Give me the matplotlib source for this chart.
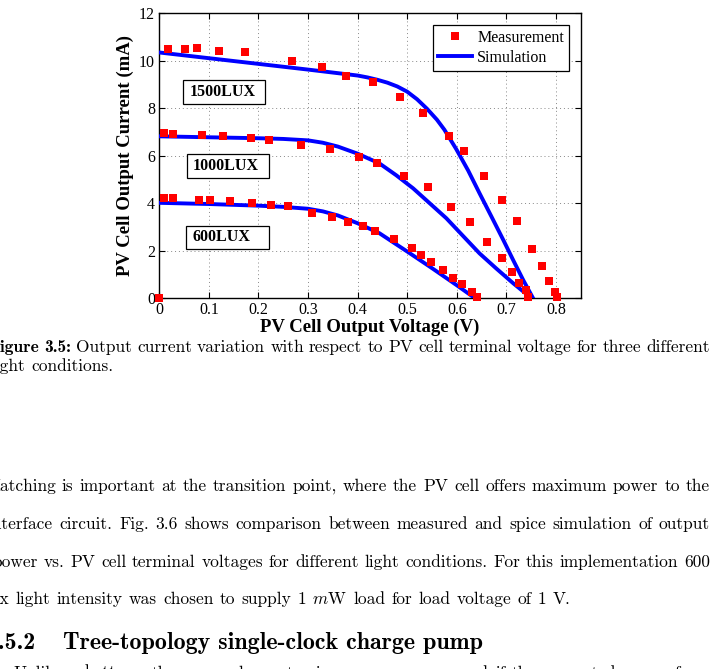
# PV cell I-V curves (measurement vs simulation) + thesis page text

import matplotlib.pyplot as plt
from matplotlib.patches import Rectangle
from matplotlib.lines import Line2D

plt.rcParams['mathtext.fontset'] = 'cm'

# measured points (V, mA)
v_meas_1500 = [0, 0.018, 0.051, 0.077, 0.121, 0.172, 0.268, 0.329, 0.376, 0.432, 0.485,
               0.532, 0.585, 0.614, 0.655, 0.692, 0.721, 0.751, 0.772, 0.786, 0.798, 0.803]
i_meas_1500 = [0, 10.49, 10.49, 10.55, 10.42, 10.35, 10.01, 9.72, 9.37, 9.09, 8.49,
               7.81, 6.85, 6.20, 5.15, 4.14, 3.25, 2.09, 1.37, 0.73, 0.25, 0.07]
v_meas_1000 = [0.009, 0.027, 0.086, 0.128, 0.185, 0.222, 0.286, 0.345, 0.403, 0.439,
               0.494, 0.541, 0.588, 0.626, 0.661, 0.691, 0.711, 0.725, 0.739, 0.743]
i_meas_1000 = [6.96, 6.93, 6.86, 6.82, 6.74, 6.67, 6.47, 6.27, 5.96, 5.70,
               5.16, 4.67, 3.86, 3.23, 2.36, 1.68, 1.12, 0.66, 0.35, 0.07]
v_meas_600 = [0.009, 0.027, 0.080, 0.103, 0.142, 0.186, 0.226, 0.259, 0.309, 0.348, 0.380,
              0.410, 0.436, 0.473, 0.510, 0.527, 0.549, 0.573, 0.593, 0.611, 0.631, 0.640]
i_meas_600 = [4.22, 4.21, 4.15, 4.14, 4.08, 4.02, 3.91, 3.87, 3.60, 3.42, 3.23,
              3.04, 2.83, 2.48, 2.12, 1.82, 1.54, 1.19, 0.87, 0.59, 0.25, 0.07]

# simulated curves
v_sim_1500 = [0, 0.1, 0.2, 0.3, 0.4, 0.42, 0.44, 0.46, 0.48, 0.5, 0.52, 0.54, 0.56, 0.575,
              0.599, 0.623, 0.646, 0.67, 0.694, 0.714, 0.734, 0.754]
i_sim_1500 = [10.35, 10.11, 9.87, 9.63, 9.38, 9.30, 9.20, 9.08, 8.92, 8.70, 8.38, 7.98, 7.52, 7.10,
              6.28, 5.38, 4.42, 3.44, 2.45, 1.60, 0.77, 0.0]
v_sim_1000 = [0, 0.1, 0.2, 0.25, 0.3, 0.33, 0.36, 0.4, 0.444, 0.478, 0.512, 0.545, 0.579,
              0.612, 0.646, 0.68, 0.714, 0.751]
i_sim_1000 = [6.82, 6.78, 6.74, 6.71, 6.65, 6.55, 6.39, 6.09, 5.68, 5.18, 4.63, 4.01, 3.37,
              2.64, 1.89, 1.25, 0.63, 0.0]
v_sim_600 = [0, 0.1, 0.2, 0.25, 0.3, 0.33, 0.36, 0.4, 0.444, 0.5, 0.55, 0.6, 0.637]
i_sim_600 = [4.02, 3.97, 3.90, 3.85, 3.77, 3.66, 3.49, 3.16, 2.74, 1.97, 1.27, 0.55, 0.0]

x_ticks = [0, 0.1, 0.2, 0.3, 0.4, 0.5, 0.6, 0.7, 0.8]
x_tick_labels = ['0', '0.1', '0.2', '0.3', '0.4', '0.5', '0.6', '0.7', '0.8']
y_ticks = [0, 2, 4, 6, 8, 10, 12]
lux_labels = ['1500LUX', '1000LUX', '600LUX']

W, H = 716, 669
fig = plt.figure(figsize=(W / 100, H / 100), dpi=100)
ax = fig.add_axes([159.3 / W, 1 - 298.3 / H, 421.4 / W, 285 / H])

serif = 'Liberation Serif'
for v, i in [(v_sim_1500, i_sim_1500), (v_sim_1000, i_sim_1000), (v_sim_600, i_sim_600)]:
    ax.plot(v, i, color='#0000ff', lw=2.8, zorder=3, solid_joinstyle='round')
for v, i in [(v_meas_1500, i_meas_1500), (v_meas_1000, i_meas_1000), (v_meas_600, i_meas_600)]:
    ax.plot(v, i, 's', color='#ff0000', ms=6, mew=0, zorder=4, clip_on=False)

ax.set_xlim(0, 0.85)
ax.set_ylim(0, 12)
ax.set_xticks(x_ticks)
ax.set_xticklabels(x_tick_labels, family=serif, fontsize=11.5)
ax.set_yticks(y_ticks)
ax.set_yticklabels([str(t) for t in y_ticks], family=serif, fontsize=11.5)
ax.tick_params(direction='in', top=True, right=True, length=4, width=0.8, pad=3)
ax.grid(True, linestyle=(0, (1, 3)), color='#888888', lw=0.7)
ax.set_axisbelow(True)
for s in ax.spines.values():
    s.set_linewidth(1.0)

ax.set_xlabel('PV Cell Output Voltage (V)', family=serif, fontweight='bold', fontsize=13.5, labelpad=0)
ax.set_ylabel('PV Cell Output Current (mA)', family=serif, fontweight='bold', fontsize=13.5, labelpad=4)

# light level boxes (axes fraction)
boxes = [(0.057, 0.682, 0.195, 0.084), (0.065, 0.423, 0.195, 0.083), (0.063, 0.172, 0.197, 0.083)]
text_x = [0.073, 0.079, 0.079]
for lab, (bx, by, bw, bh), tx in zip(lux_labels, boxes, text_x):
    ax.add_patch(Rectangle((bx, by), bw, bh, transform=ax.transAxes, facecolor='white',
                           edgecolor='black', lw=0.9, zorder=5))
    ax.text(tx, by + bh / 2, lab, transform=ax.transAxes, family=serif, fontweight='bold',
            fontsize=11.5, va='center', ha='left', zorder=6)

handles = [Line2D([], [], marker='s', ls='none', color='#ff0000', ms=6, mew=0),
           Line2D([], [], color='#0000ff', lw=2.8)]
leg = ax.legend(handles, ['Measurement', 'Simulation'], loc='upper right', numpoints=1,
                prop={'family': serif, 'size': 11.5}, fancybox=False, framealpha=1,
                edgecolor='black', borderaxespad=0.75, handlelength=2.1, handletextpad=0.35,
                labelspacing=0.25, borderpad=0.3)
leg.get_frame().set_linewidth(0.9)
leg.set_zorder(7)

# page text
r = fig.canvas.get_renderer()


def width_of(s, **kw):
    t = fig.text(0, 0, s, **kw)
    w = t.get_window_extent(renderer=r).width
    t.remove()
    return w


def put_line(words, y, x0, x1=None, size=12.3):
    # words: (text, family); y = baseline in px from top
    ws = [width_of(w, family=f, fontsize=size) for w, f in words]
    if x1 is None:
        gap = size * 100 / 72 * 0.36
    else:
        gap = (x1 - x0 - sum(ws)) / (len(words) - 1)
    x = x0
    for (w, f), wd in zip(words, ws):
        fig.text(x / W, 1 - y / H, w, family=f, fontsize=size, va='baseline', ha='left')
        x += wd + gap


def plain(s):
    return [(w, 'cmr10') for w in s.split()]


fs = 12.5
right = 710
cap1 = [('Figure', 'cmb10'), ('3.5:', 'cmb10')] + plain(
    'Output current variation with respect to PV cell terminal voltage for three different')
put_line(cap1, 352, -width_of('F', family='cmb10', fontsize=fs), right, fs)
put_line(plain('light conditions.'), 371, -width_of('li', family='cmr10', fontsize=fs), None, fs)

put_line(plain('Matching is important at the transition point, where the PV cell offers maximum power to the'),
         491, -width_of('M', family='cmr10', fontsize=fs), right, fs)
put_line(plain('interface circuit. Fig. 3.6 shows comparison between measured and spice simulation of output'),
         529, 2 - width_of('in', family='cmr10', fontsize=fs), right, fs)
put_line(plain('power vs. PV cell terminal voltages for different light conditions. For this implementation 600'),
         567, 2 - width_of('p', family='cmr10', fontsize=fs), right, fs)
put_line(plain('lux light intensity was chosen to supply 1') + [('$m$W', 'cmr10')] +
         plain('load for load voltage of 1 V.'),
         604, -width_of('lu', family='cmr10', fontsize=fs), None, fs)

# section heading
hs = 14.8
title = 'Tree-topology single-clock charge pump'
tw = width_of(title, family='cmb10', fontsize=hs)
hs = hs * 420 / tw
fig.text(35 / W, 1 - 649 / H, '3.5.2', family='cmb10', fontsize=hs, va='baseline', ha='right')
fig.text(63 / W, 1 - 649 / H, title, family='cmb10', fontsize=hs, va='baseline', ha='left')

put_line(plain('Unlike a battery, the energy harvester is a power source, and if the generated power from'),
         678, 13, right, fs)

fig.savefig('out.png', dpi=100)
